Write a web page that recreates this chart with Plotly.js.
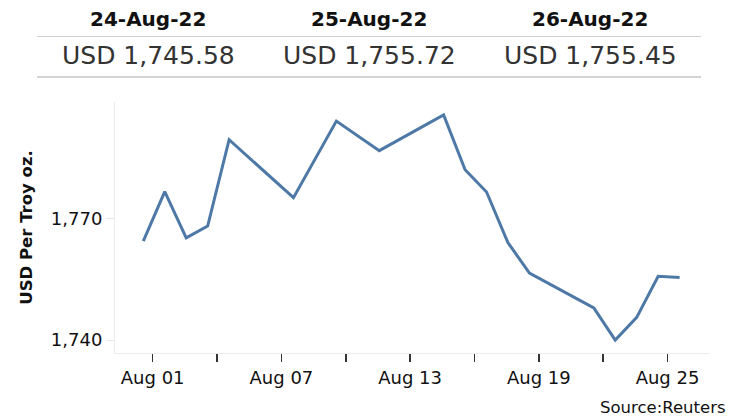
<!DOCTYPE html>
<html>
<head>
<meta charset="utf-8">
<script src="https://cdn.plot.ly/plotly-3.0.1.min.js"></script>
<style>
html,body{margin:0;padding:0;background:#fff;}
#chart{width:743px;height:417px;}
</style>
</head>
<body>
<div id="chart"></div>
<script>
// ---- data ----
const dates = ['2022-08-01','2022-08-02','2022-08-03','2022-08-04','2022-08-05','2022-08-08','2022-08-10','2022-08-12','2022-08-15','2022-08-16','2022-08-17','2022-08-18','2022-08-19','2022-08-22','2022-08-23','2022-08-24','2022-08-25','2022-08-26'];
const prices = [1764.4, 1776.6, 1765.2, 1768.1, 1789.4, 1775.1, 1794.0, 1786.7, 1795.5, 1782.0, 1776.5, 1764.0, 1756.5, 1747.9, 1740.0, 1745.58, 1755.72, 1755.45];

const headerDates = ['24-Aug-22', '25-Aug-22', '26-Aug-22'];
const headerValues = ['USD 1,745.58', 'USD 1,755.72', 'USD 1,755.45'];

const xTickDates = ['2022-08-01','2022-08-04','2022-08-07','2022-08-10','2022-08-13','2022-08-16','2022-08-19','2022-08-22','2022-08-25'];
const xTickText = ['Aug 01','','Aug 07','','Aug 13','','Aug 19','','Aug 25'];
const yTickVals = [1740, 1770];
const yTickText = ['1,740', '1,770'];

const yTitle = 'USD Per Troy oz.';
const sourceText = 'Source:Reuters';

// ---- layout helpers ----
const W = 743, H = 417;
const M = {l: 115, r: 34, t: 102, b: 64};
const PW = W - M.l - M.r, PH = H - M.t - M.b;
const px = x => (x - M.l) / PW;
const py = y => (H - M.b - y) / PH;
const FONT = 'DejaVu Sans, sans-serif';

const tickVals = xTickDates.map(d => d + ' 10:30');

const annotations = [];
const shapes = [];
const colCenters = [148, 369, 590];
headerDates.forEach((t, i) => {
  annotations.push({xref:'paper', yref:'paper', x: px(colCenters[i]), y: py(19), text: t,
    showarrow:false, xanchor:'center', yanchor:'middle',
    font:{family:FONT, size:20, color:'#111', weight:700}});
});
headerValues.forEach((t, i) => {
  annotations.push({xref:'paper', yref:'paper', x: px(colCenters[i]), y: py(56), text: t,
    showarrow:false, xanchor:'center', yanchor:'middle',
    font:{family:FONT, size:25, color:'#333'}});
});
annotations.push({xref:'paper', yref:'paper', x: px(728), y: py(407), text: sourceText,
  showarrow:false, xanchor:'right', yanchor:'middle',
  font:{family:FONT, size:16.5, color:'#111'}});

[36.5, 77].forEach(y => {
  shapes.push({type:'line', xref:'paper', yref:'paper', x0: px(37), x1: px(701), y0: py(y), y1: py(y),
    line:{color: y < 50 ? '#cfcfcf' : '#d4d4d4', width: y < 50 ? 1 : 2}});
});

const trace = {
  x: dates, y: prices, type:'scatter', mode:'lines',
  line:{color:'#4e79a7', width:3},
  hoverinfo:'x+y'
};

const layout = {
  width: W, height: H,
  margin: M,
  paper_bgcolor:'#fff', plot_bgcolor:'#fff',
  showlegend:false,
  font:{family:FONT, color:'#111'},
  xaxis:{
    type:'date',
    range:['2022-07-30 16:20','2022-08-27 08:53'],
    tickmode:'array', tickvals: tickVals, ticktext: xTickText,
    ticks:'outside', ticklen:8, tickwidth:1.5, tickcolor:'#333',
    showgrid:false, zeroline:false,
    showline:true, linecolor:'#ececec', linewidth:1,
    tickfont:{family:FONT, size:18, color:'#111'}
  },
  yaxis:{
    range:[1736.8, 1798.7],
    tickmode:'array', tickvals: yTickVals, ticktext: yTickText,
    ticks:'outside', ticklen:8, tickcolor:'#e6e6e6', tickwidth:1,
    showgrid:false, zeroline:false,
    showline:true, linecolor:'#ececec', linewidth:1,
    tickfont:{family:FONT, size:18, color:'#111'},
    title:{text: yTitle, standoff: 14, font:{family:FONT, size:16.5, color:'#111', weight:700}}
  },
  annotations: annotations,
  shapes: shapes
};

Plotly.newPlot('chart', [trace], layout, {displayModeBar:false, staticPlot:true});
</script>
</body>
</html>
